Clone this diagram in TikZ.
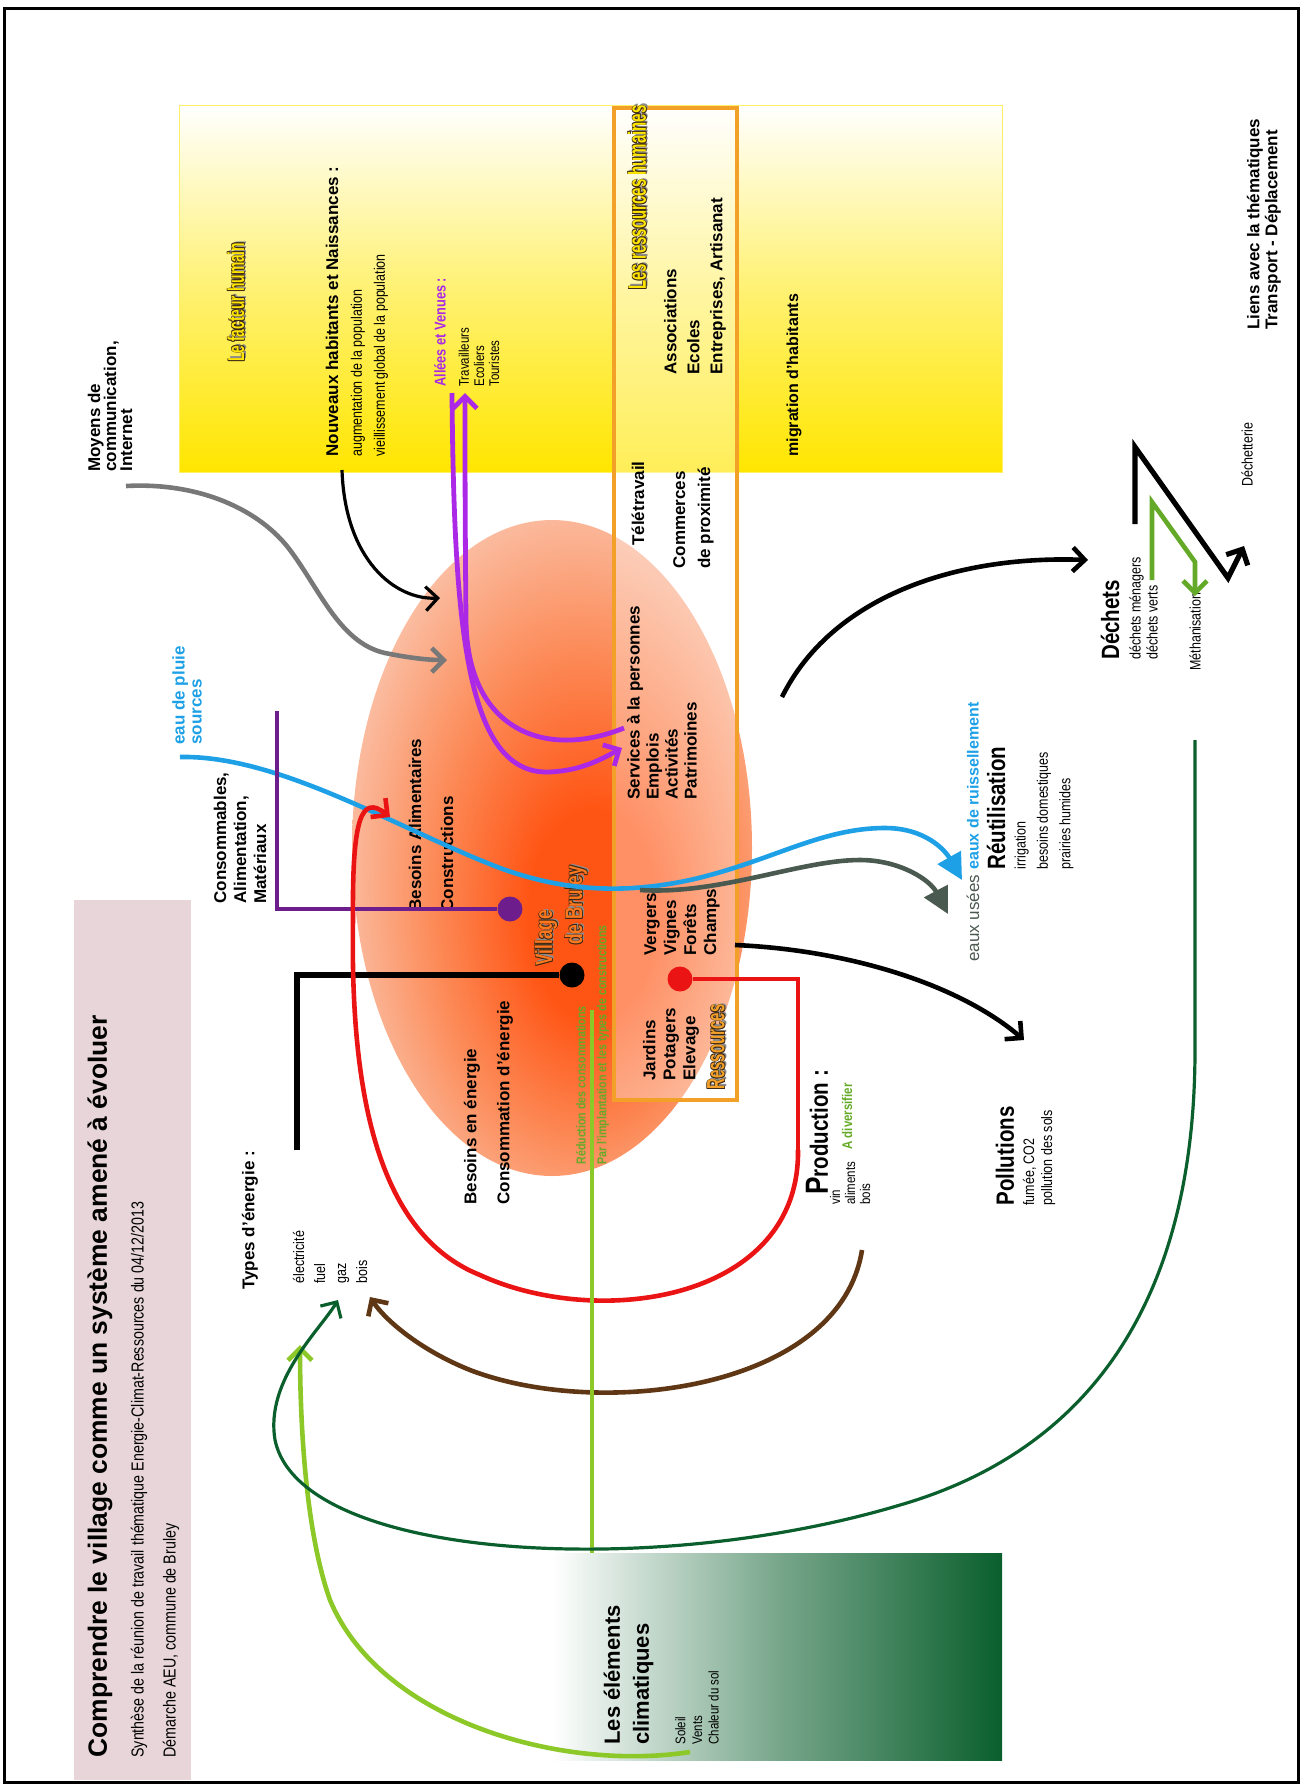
\documentclass[tikz,border=0pt]{standalone}
\usepackage{fontspec}
\setmainfont{Liberation Sans}
\newfontfamily\narrowfont[FakeStretch=0.82]{Liberation Sans}
\newfontfamily\condfont[FakeStretch=0.72]{Liberation Sans}
\newfontfamily\heavyfont[FakeStretch=0.6]{Liberation Sans}
\usetikzlibrary{arrows.meta,calc}

\definecolor{titlepink}{RGB}{231,213,217}
\definecolor{humanyellow}{RGB}{255,230,0}
\definecolor{ressorange}{RGB}{243,160,40}
\definecolor{consopurple}{RGB}{110,30,140}
\definecolor{visitviolet}{RGB}{170,40,230}
\definecolor{skyblue}{RGB}{30,160,230}
\definecolor{slate}{RGB}{75,90,80}
\definecolor{commgrey}{RGB}{120,120,120}
\definecolor{climgreen}{RGB}{10,95,45}
\definecolor{sungreen}{RGB}{140,200,40}
\definecolor{wastegreen}{RGB}{100,170,40}
\definecolor{woodbrown}{RGB}{95,55,20}
\definecolor{prodred}{RGB}{235,20,20}
\definecolor{glowcore}{RGB}{255,85,20}
\definecolor{glowmid}{RGB}{252,140,90}
\definecolor{glowpale}{RGB}{250,210,192}
\definecolor{outline}{RGB}{60,40,20}
\definecolor{villageorange}{RGB}{255,120,30}

\pgfdeclareradialshading{villageglow}{\pgfpoint{6bp}{-6bp}}{%
  color(0bp)=(glowcore); color(8bp)=(glowcore); color(19bp)=(glowmid); color(33bp)=(glowpale); color(50bp)=(white)}

\tikzset{
  txt/.style={rotate=90, anchor=west, inner sep=0pt, align=left},
  boldlbl/.style={txt, font=\fontsize{8.5}{11.5}\selectfont\bfseries},
  thinlbl/.style={txt, font=\narrowfont\fontsize{7.6}{11.5}\selectfont},
  biglbl/.style={txt, font=\narrowfont\fontsize{12.5}{14}\selectfont\bfseries},
  dot/.style={circle, inner sep=0pt, minimum size=12.5pt},
  link/.style={line width=2.3pt},
  barb/.style={-{Straight Barb[length=6pt,width=12pt]}},
  tri/.style={-{Triangle[length=13pt,width=13pt]}}
}

% outlined title text: name, position, fill colour, font, text
\newcommand{\outlinelbl}[5]{%
  \node[txt, font=#4, text=black!45, xshift=0.9pt, yshift=-0.9pt] at (#2) {#5};
  \foreach \ox/\oy in {-0.3/-0.3,0.3/-0.3,-0.3/0.3,0.3/0.3}
    \node[txt, font=#4, text=outline, xshift=\ox pt, yshift=\oy pt] at (#2) {#5};
  \node[txt, font=#4, text=#3] (#1) at (#2) {#5};}

\begin{document}
\begin{tikzpicture}[x=0.5pt,y=-0.5pt]
\useasboundingbox (0,0) rectangle (1301,1785);

% frame and background areas
\draw[line width=1.5pt] (4,8) rectangle (1298,1782);
\fill[titlepink] (74,900) rectangle (191,1780);
\shade[top color=white, bottom color=humanyellow, middle color=humanyellow!55] (179,105) rectangle (1002,472);
\draw[humanyellow!60, line width=0.5pt] (179,105) rectangle (1002,472);
\shade[shading=villageglow] (552,848) ellipse [x radius=200, y radius=328];
\shade[left color=white, right color=climgreen, middle color=climgreen!55] (552,1553) rectangle (1002,1760);
\draw[ressorange, line width=1.8pt, fill=white, fill opacity=0.35] (614,108) rectangle (737,1100);

% title
\node[txt, font=\fontsize{13.2}{15}\selectfont\bfseries] (title) at (100,1758) {Comprendre le village comme un système amené à évoluer};
\node[txt, font=\narrowfont\fontsize{8.7}{10}\selectfont] (synth) at (139,1758) {Synthèse de la réunion de travail thématique Energie-Climat-Ressources du 04/12/2013};
\node[txt, font=\narrowfont\fontsize{8.7}{10}\selectfont] (demarche) at (171,1758) {Démarche AEU, commune de Bruley};

% outside inputs
\node[boldlbl, font=\fontsize{8.5}{8}\selectfont\bfseries] (moyens) at (110,472) {Moyens de\\communication,\\Internet};
\node[boldlbl, text=skyblue, font=\fontsize{8.5}{8.5}\selectfont\bfseries] (pluie) at (187,745) {eau de pluie\\sources};
\node[boldlbl, font=\fontsize{8.5}{10}\selectfont\bfseries] (conso) at (240,904) {Consommables,\\Alimentation,\\Matériaux};
\node[boldlbl] (types) at (250,1290) {Types d’énergie :};
\node[thinlbl, font=\narrowfont\fontsize{7.6}{10.5}\selectfont] (energies) at (330,1284) {électricité\\fuel\\gaz\\bois};

% human factor
\outlinelbl{facteur}{236,362}{humanyellow}{\heavyfont\fontsize{11.5}{12}\selectfont\bfseries}{Le facteur humain}
\node[boldlbl] (nouveaux) at (332,457) {Nouveaux habitants et Naissances :};
\node[thinlbl] (popul) at (369.5,457) {augmentation de la population\\vieillissement global de la population};
\node[txt, text=visitviolet, font=\narrowfont\fontsize{7.8}{8}\selectfont\bfseries] (allees) at (440,387) {Allées et Venues :};
\node[thinlbl, font=\narrowfont\fontsize{7}{7.6}\selectfont] (visiteurs) at (479,387) {Travailleurs\\Ecoliers\\Touristes};
\node[boldlbl, font=\fontsize{8}{10}\selectfont\bfseries] (migration) at (794,457) {migration d’habitants};
\node[boldlbl, font=\fontsize{8.5}{9}\selectfont\bfseries] (liens) at (1264,330) {Liens avec la thématiques\\Transport - Déplacement};

% human resources
\outlinelbl{resshum}{637,290}{humanyellow}{\heavyfont\fontsize{12.5}{13}\selectfont\bfseries}{Les ressources humaines}
\node[boldlbl] (assoc) at (695,375) {Associations\\Ecoles\\Entreprises, Artisanat};
\node[boldlbl] (teletravail) at (638,546) {Télétravail};
\node[boldlbl, font=\fontsize{8.5}{12.5}\selectfont\bfseries] (commerces) at (693.5,569) {Commerces\\de proximité};
\node[boldlbl, font=\fontsize{8.5}{9.5}\selectfont\bfseries] (services) at (662,800) {Services à la personnes\\Emplois\\Activités\\Patrimoines};
\node[boldlbl, font=\fontsize{8.5}{10}\selectfont\bfseries] (vergers) at (682,956) {Vergers\\Vignes\\Forêts\\Champs};
\node[boldlbl, font=\fontsize{8.5}{10}\selectfont\bfseries] (jardins) at (671,1081) {Jardins\\Potagers\\Elevage};
\outlinelbl{ressources}{716,1090}{ressorange}{\heavyfont\fontsize{12.5}{13}\selectfont\bfseries}{Ressources}

% village
\node[boldlbl, font=\fontsize{8.5}{16}\selectfont\bfseries] (besoinsalim) at (431,912) {Besoins Alimentaires\\Constructions};
\node[boldlbl, font=\fontsize{8.5}{16.5}\selectfont\bfseries] (besoinsener) at (488.5,1205) {Besoins en énergie\\Consommation d’énergie};
\outlinelbl{village}{546,966}{villageorange}{\condfont\fontsize{12}{13}\selectfont\bfseries}{Village}
\outlinelbl{bruley}{576,945}{villageorange}{\condfont\fontsize{12}{13}\selectfont\bfseries}{de Bruley}
\node[txt, text=wastegreen, font=\narrowfont\fontsize{6.5}{7}\selectfont\bfseries] (reduction) at (581,1165) {Réduction des consommations};
\node[txt, text=wastegreen, font=\narrowfont\fontsize{6.5}{7}\selectfont\bfseries] (implantation) at (603,1165) {Par l’implantation et les types de constructions};
\node[dot, fill=consopurple] (purpledot) at (510,909) {};
\node[dot, fill=black] (blackdot) at (572,975) {};
\node[dot, fill=prodred] (reddot) at (680,979) {};

% outputs
\node[biglbl] (production) at (817,1195) {{\fontsize{16}{16}\selectfont P}roduction :};
\node[thinlbl, font=\narrowfont\fontsize{7}{7.5}\selectfont] (prodlist) at (850,1205) {vin\\aliments\\bois};
\node[txt, text=wastegreen, font=\narrowfont\fontsize{7}{8}\selectfont\bfseries] (diversifier) at (847,1150) {A diversifier};
\node[boldlbl, text=skyblue, font=\fontsize{8}{10}\selectfont\bfseries] (ruissellement) at (973,870) {eaux de ruissellement};
\node[biglbl] (reutil) at (996,870) {Réutilisation};
\node[thinlbl, font=\narrowfont\fontsize{7.6}{11.2}\selectfont] (reutlist) at (1044,870) {irrigation\\besoins domestiques\\prairies humides};
\node[txt, text=slate, font=\fontsize{8.5}{10}\selectfont] (usees) at (973,962) {eaux usées};
\node[biglbl] (dechets) at (1110,660) {Déchets};
\node[thinlbl, font=\narrowfont\fontsize{7.6}{8.5}\selectfont] (dechlist) at (1143.5,660) {déchets ménagers\\déchets verts};
\node[thinlbl] (dechetterie) at (1247,487) {Déchetterie};
\node[thinlbl] (methan) at (1195,671) {Méthanisation};
\node[biglbl] (pollutions) at (1005,1206) {Pollutions};
\node[thinlbl, font=\narrowfont\fontsize{7.6}{9}\selectfont] (pollist) at (1039,1206) {fumée, CO2\\pollution des sols};

% climate
\node[boldlbl, font=\fontsize{11}{14.5}\selectfont\bfseries] (climat) at (628.5,1745) {Les éléments\\climatiques};
\node[thinlbl, font=\narrowfont\fontsize{7}{8.3}\selectfont] (climlist) at (697,1745) {Soleil\\Vents\\Chaleur du sol};

% connector ends
\coordinate (bluestart) at (180,757);
\coordinate (bluetip) at (962,880);
\coordinate (slatestart) at (640,890);
\coordinate (slatetip) at (948,914);
\coordinate (greystart) at (126,486);
\coordinate (greytip) at (447,660);
\coordinate (newstart) at (342,470);
\coordinate (newtip) at (440,598);
\coordinate (comein) at (452,393);
\coordinate (comeintip) at (622,748);
\coordinate (goout) at (624,728);
\coordinate (goouttip) at (465,393);
\coordinate (foodtip) at (390,817);
\coordinate (prodturn) at (798,1150);
\coordinate (woodstart) at (862,1250);
\coordinate (woodtip) at (370,1297);
\coordinate (suntip) at (300,1345);
\coordinate (sunstart) at (690,1752);
\coordinate (gastip) at (338,1300);
\coordinate (methstart) at (1195,740);
\coordinate (pollstart) at (735,945);
\coordinate (polltip) at (1024,1040);
\coordinate (dechstart) at (782,697);
\coordinate (dechtip) at (1088,560);

% connectors
\draw[skyblue, link, tri] (bluestart) .. controls (280,755) and (400,830) .. (500,868)
  .. controls (560,890) and (620,895) .. (690,880)
  .. controls (770,862) and (820,828) .. (885,828)
  .. controls (925,828) and (945,850) .. (bluetip);
\draw[slate, link, tri] (slatestart) .. controls (720,895) and (800,860) .. (860,860)
  .. controls (900,860) and (930,880) .. (slatetip);
\draw[commgrey, line width=2.3pt, barb] (greystart) .. controls (200,482) and (260,510) .. (290,550)
  .. controls (320,590) and (340,643) .. (385,653)
  .. controls (410,658) and (428,660) .. (greytip);
\draw[line width=1.6pt, barb] (newstart) .. controls (345,560) and (395,600) .. (newtip);
\draw[visitviolet, line width=2.4pt, barb] (comein) .. controls (454,620) and (465,770) .. (545,772)
  .. controls (578,772) and (600,760) .. (comeintip);
\draw[visitviolet, line width=2.4pt, barb] (goout) .. controls (545,760) and (467,730) .. (466,620)
  .. controls (465,520) and (465,450) .. (goouttip);
\draw[consopurple, link] (purpledot) -- (277,909) -- (277,711);
\draw[line width=2.6pt] (blackdot) -- (297,975) -- (297,1150);
\draw[prodred, link] (reddot) -- (798,979) -- (prodturn);
\draw[prodred, link, barb] (prodturn) .. controls (800,1300) and (600,1330) .. (480,1275)
  .. controls (380,1235) and (350,1100) .. (353,920)
  .. controls (352,815) and (362,795) .. (foodtip);
\draw[woodbrown, link, barb] (woodstart) .. controls (840,1390) and (600,1420) .. (470,1370)
  .. controls (420,1350) and (385,1320) .. (woodtip);
\draw[sungreen, link] (592,1553) -- (592,1010);
\draw[sungreen, link, barb] (sunstart) .. controls (560,1772) and (380,1720) .. (330,1600)
  .. controls (305,1530) and (300,1420) .. (suntip);
\draw[climgreen, line width=1.6pt, barb] (methstart) -- (1195,1050)
  .. controls (1195,1300) and (1090,1450) .. (900,1505)
  .. controls (650,1580) and (300,1560) .. (275,1440)
  .. controls (265,1380) and (320,1330) .. (gastip);
\draw[link, barb] (pollstart) .. controls (850,950) and (960,985) .. (polltip);
\draw[link, barb] (dechstart) .. controls (830,600) and (950,555) .. (dechtip);
\draw[line width=2.6pt, barb] (1135,524) -- (1135,447) -- (1228,578) -- (1244,546);
\draw[wastegreen, link, barb] (1152,580) -- (1152,502) -- (1195,562) -- (1195,596);
\end{tikzpicture}
\end{document}
